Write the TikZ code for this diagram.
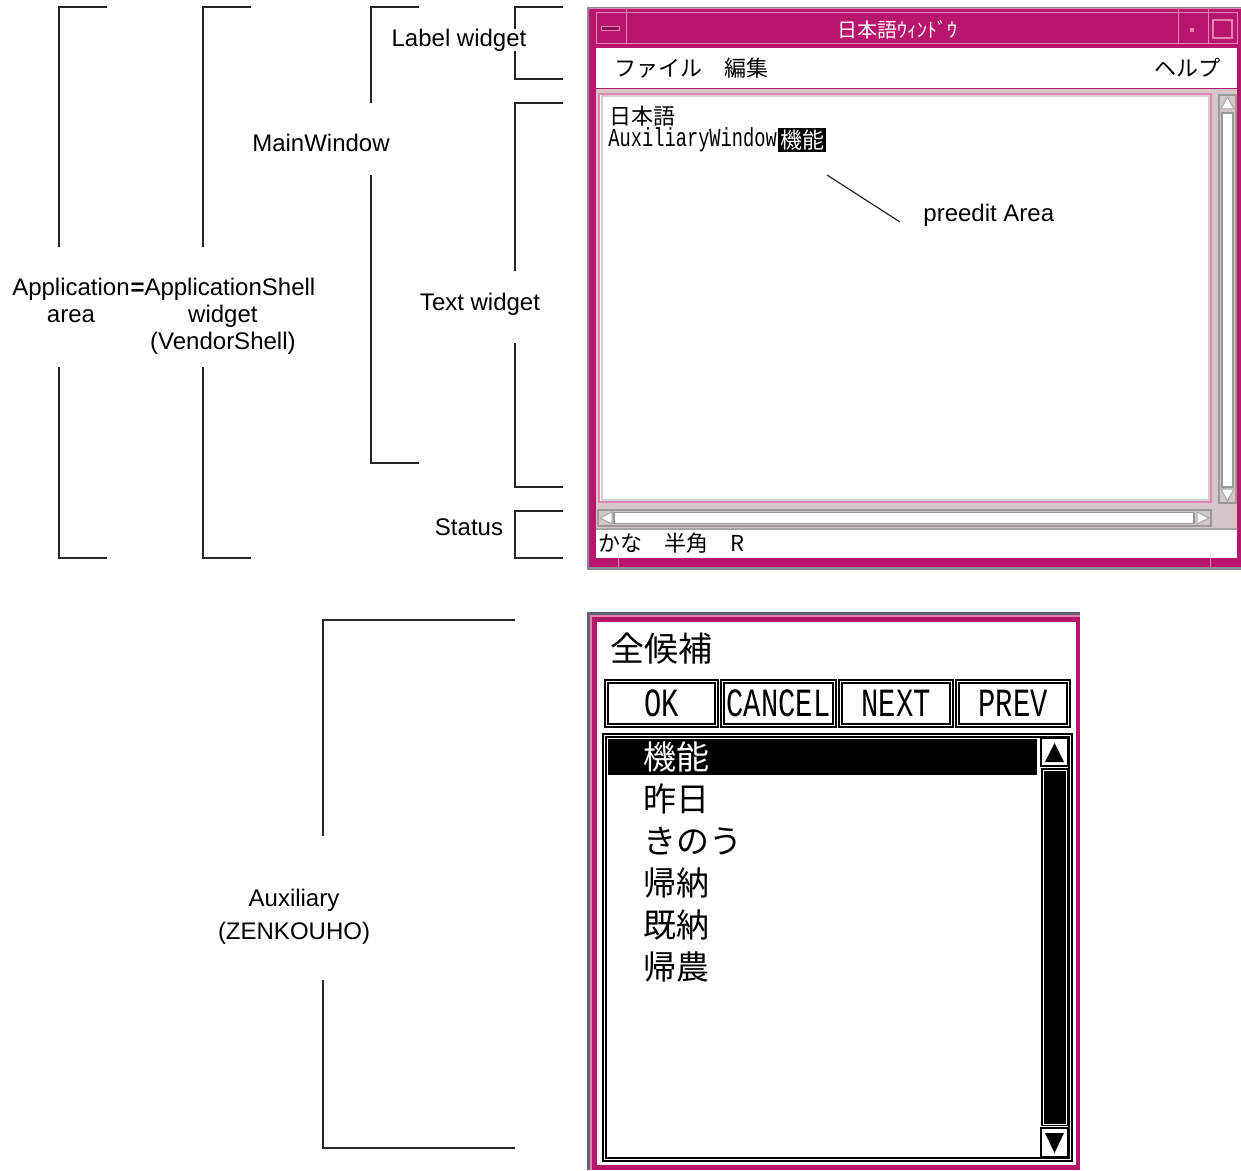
\documentclass[tikz,border=0pt]{standalone}
\usepackage{fontspec}
\setmainfont{Liberation Sans}
\newfontfamily\jfont{Noto Sans CJK JP}
\newfontfamily\pixfont{Liberation Mono}
\usetikzlibrary{positioning,calc}
\definecolor{winmag}{RGB}{184,22,108}
\definecolor{winmaglt}{RGB}{226,132,182}
\definecolor{winbg}{RGB}{212,198,198}
\definecolor{winedge}{RGB}{140,138,150}
\newcommand{\pix}[2][0.72]{\scalebox{#1}[1]{#2}}
\tikzset{
	brk/.style={draw=black!85, line width=0.7pt},
	lbl/.style={font=\fontsize{12}{13.5}\selectfont, inner sep=0pt, align=center},
	jtxt/.style={font=\jfont\fontsize{#1}{#1}\selectfont, inner sep=0pt, anchor=west},
	jtxt/.default=11,
	pixtxt/.style={font=\pixfont\fontsize{#1}{#1}\selectfont, inner sep=0pt},
	pixtxt/.default=13,
	hiline/.style={draw=winmaglt, line width=0.5pt},
	sunk/.style={draw=black!40, line width=0.75pt},
	dbl/.style={draw=black, line width=0.75pt},
	arrowbox/.style={draw=black!35, fill=white, line width=0.5pt}
}
\begin{document}
\begin{tikzpicture}[x=0.5pt, y=-0.5pt]
\useasboundingbox (0,0) rectangle (1241,1171);

% brackets on the left
\draw[brk] (107,7) -| (59,247) (59,367) |- (107,558);
\draw[brk] (251,7) -| (203,247) (203,367) |- (251,558);
\draw[brk] (419,7) -| (371,103) (371,175) |- (419,463);
\draw[brk] (563,7) -| (515,79) -- (563,79);
\draw[brk] (563,103) -| (515,271) (515,343) |- (563,487);
\draw[brk] (563,511) -| (515,558) -- (563,558);
\draw[brk] (515,620) -| (323,836) (323,980) |- (515,1148);

\node[lbl] (app) at (71,300) {Application\\area};
\node[lbl, anchor=north west] (shell) at (app.north east) {\textbf{=}ApplicationShell\\widget\\(VendorShell)};
\node[lbl] (mainw) at (321,143) {MainWindow};
\node[lbl, fill=white] (labelw) at (459,40) {Label widget};
\node[lbl] (textw) at (480,304) {Text widget};
\node[lbl] (status) at (469,527) {Status};
\node[lbl] (aux) at (294,917) {Auxiliary\hspace{9pt}\\[3pt](ZENKOUHO)};

% main window
\fill[winedge] (587,7) rectangle (1241,570);
\fill[winmag] (589,9) rectangle (1241,567);
\draw[hiline] (589,9) -- (1241,9);
\draw[hiline] (596,13) rectangle (1237,44);
\draw[hiline] (626,9) -- (626,44) (1178,9) -- (1178,44) (1208,9) -- (1208,44);
\filldraw[fill=winmag!75!black, draw=winmaglt, line width=0.5pt] (601,27) rectangle (619,31);
\fill[winmaglt] (1190,28) rectangle (1194,32);
\draw[draw=winmaglt, line width=0.75pt] (1213,20) rectangle (1232,38);
\node[jtxt=10, anchor=center, text=white] (title) at (897,30) {日本語ｳｨﾝﾄﾞｳ};

\fill[white] (596,48) rectangle (1237,88);
\node[jtxt] (mfile) at (614,68) {ファイル　編集};
\node[jtxt, anchor=east] (mhelp) at (1221,68) {ヘルプ};

\fill[winbg] (596,89) rectangle (1237,528);
\draw[draw=winmaglt, line width=1pt, fill=white] (599,94) rectangle (1211,502);
\draw[draw=black!18, line width=1pt] (601.5,96.5) rectangle (1208.5,499.5);
\node[jtxt] (jpn) at (609,116) {日本語};
\node[pixtxt, anchor=west] (auxw) at (608,140) {\pix{AuxiliaryWindow}};
\node[jtxt, anchor=west, fill=black, text=white, inner sep=1pt] (pre) at (778,140) {機能};

% scroll bars
\draw[sunk] (1219,95) rectangle (1236,503);
\draw[arrowbox] (1221,109) -- (1227.5,97) -- (1234,109) -- cycle;
\draw[sunk, fill=white] (1222,113) rectangle (1233,487);
\draw[arrowbox] (1221,489) -- (1227.5,501) -- (1234,489) -- cycle;
\draw[sunk] (598,510) rectangle (1211,526);
\draw[arrowbox] (612,512) -- (600,518) -- (612,524) -- cycle;
\draw[sunk, fill=white] (614,512.5) rectangle (1194,523.5);
\draw[arrowbox] (1197,512) -- (1209,518) -- (1197,524) -- cycle;

\fill[white] (596,530) rectangle (1237,558);
\draw[draw=black!35, line width=0.75pt] (596,529) -- (1237,529);
\node[jtxt] (stat) at (598,543) {かな　半角　R};
\draw[hiline] (618,558) -- (618,567) (1210,558) -- (1210,567);

% preedit pointer
\coordinate (pe) at (827,175);
\node[lbl, anchor=west] (preedit) at (923,215) {preedit Area};
\draw[brk, line width=0.6pt] (pe) -- ($(preedit.west)+(-23,7)$);

% auxiliary window
\fill[winedge!70!black] (587,612) rectangle (1080,1170);
\fill[winmaglt] (590,615) rectangle (1080,1170);
\fill[winmag] (592,617) rectangle (1080,1170);
\fill[white] (597,622) rectangle (1076,1165);
\node[jtxt=17] (zenk) at (610,649) {全候補};

\foreach \bx/\bw/\bt [count=\i] in {605/113/OK, 721/115/CANCEL, 839/114/NEXT, 956/114/PREV} {
	\draw[dbl] (\bx,680) rectangle ++(\bw,47);
	\draw[dbl] (\bx+3,683) rectangle ++(\bw-6,41);
	\node[pixtxt=20, anchor=center] (btn\i) at (\bx+\bw/2,703) {\pix{\bt}};
}

\draw[dbl] (603,734) rectangle (1072,1161);
\draw[dbl] (606,737) rectangle (1069,1158);
\fill[black] (608,739) rectangle (1037,775);
\node[jtxt=16.5, text=white] (cand1) at (643,757) {機能};
\foreach \w [count=\i from 2] in {昨日, きのう, 帰納, 既納, 帰農}
	\node[jtxt=16.5] (cand\i) at (643,715+42*\i) {\w};

\draw[dbl] (1041,738) rectangle (1068,766);
\fill[black] (1045,762) -- (1054.5,743) -- (1064,762) -- cycle;
\fill[black] (1041,768) rectangle (1068,1126);
\draw[draw=white, line width=0.5pt] (1043,770) rectangle (1066,1124);
\draw[dbl] (1041,1128) rectangle (1068,1157);
\fill[black] (1045,1133) -- (1064,1133) -- (1054.5,1153) -- cycle;

\end{tikzpicture}
\end{document}
